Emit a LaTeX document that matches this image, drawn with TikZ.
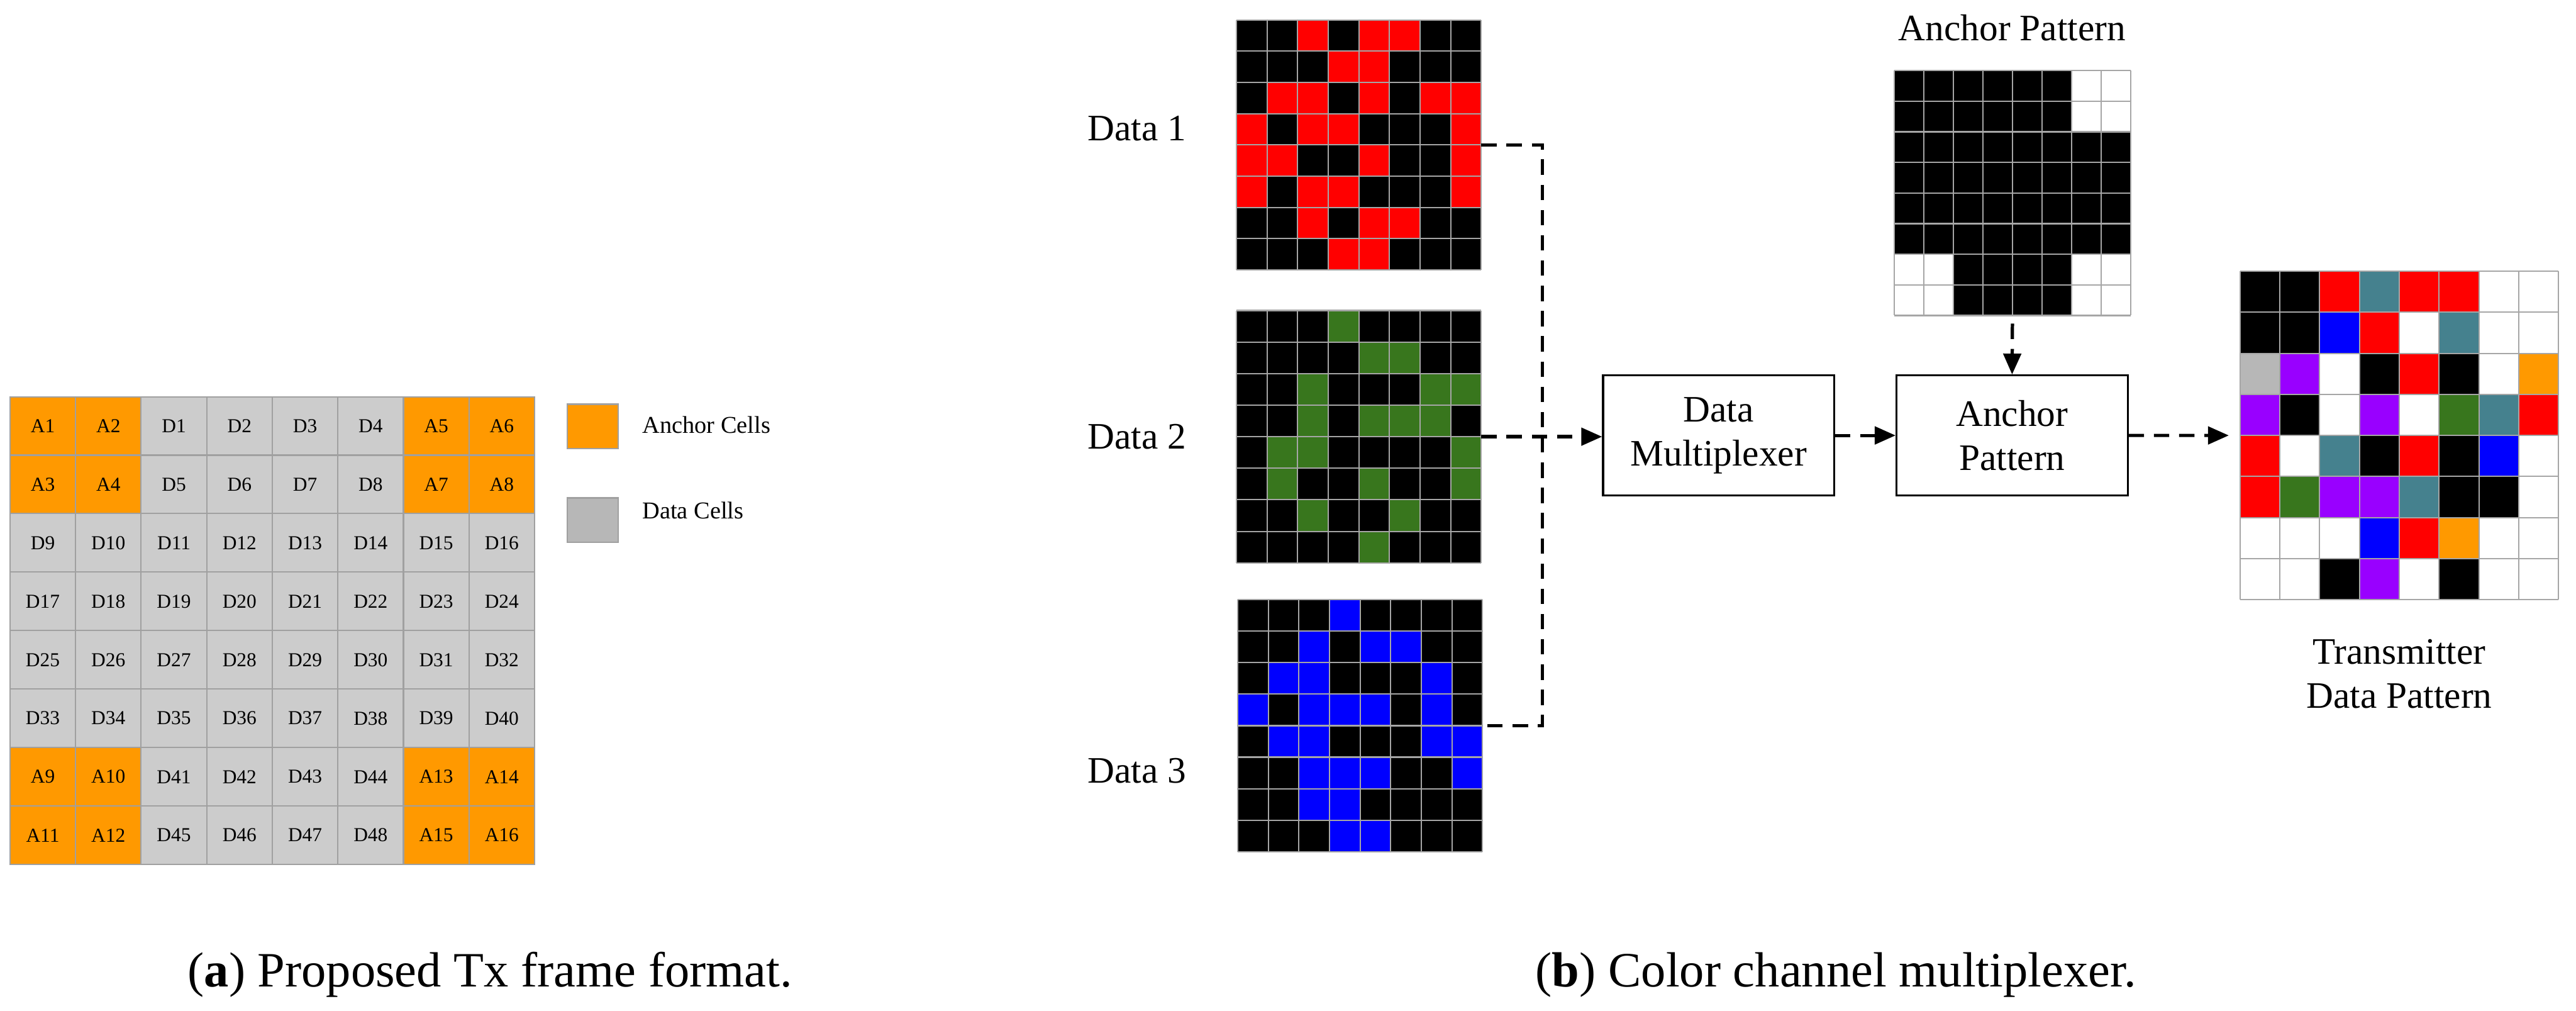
\documentclass[tikz,border=0pt]{standalone}
\usepackage{fontspec}
\setmainfont{Liberation Serif}
\usetikzlibrary{positioning,arrows.meta,calc}

\definecolor{fillA}{HTML}{FF9900}
\definecolor{fillD}{HTML}{CCCCCC}
\definecolor{legGray}{HTML}{B7B7B7}
\definecolor{lineGray}{HTML}{A0A0A0}
\definecolor{cellk}{HTML}{000000}
\definecolor{cellr}{HTML}{FF0000}
\definecolor{cellg}{HTML}{38761D}
\definecolor{cellb}{HTML}{0000FF}
\definecolor{cellt}{HTML}{45818E}
\definecolor{cellp}{HTML}{9900FF}
\definecolor{cello}{HTML}{FF9900}
\definecolor{celly}{HTML}{B7B7B7}
\definecolor{cellw}{HTML}{FFFFFF}

\tikzset{
  fcell/.style={draw=lineGray, line width=0.6pt, minimum width=1.05cm, minimum height=0.936cm, inner sep=0pt, font=\fontsize{9}{10}\selectfont},
  legbox/.style={draw=lineGray, line width=0.6pt, minimum width=0.82cm, minimum height=0.71cm, inner sep=0pt},
  leglbl/.style={anchor=base west, font=\fontsize{11}{13}\selectfont, inner sep=0pt},
  box/.style={draw, line width=0.9pt, minimum width=3.7cm, minimum height=1.92cm, align=center, font=\fontsize{17}{20}\selectfont},
  lbl/.style={font=\fontsize{17}{20}\selectfont, inner sep=0pt},
  pixline/.style={draw=black!35, line width=0.6pt},
  dline/.style={dash pattern=on 7pt off 4.5pt, line width=1.5pt},
  dflow/.style={dline, -{Triangle[length=9.5pt, width=8pt]}},
  captxt/.style={anchor=base, inner sep=0pt, font=\fontsize{22.5}{26}\selectfont},
}

% 8x8 pattern: name, left, top, cell width, cell height, rows
\newcommand{\pixgrid}[6]{%
  \foreach \prow [count=\ri] in {#6} {
    \foreach \pv [count=\ci] in \prow {
      \fill[fill=cell\pv] ({#2+(\ci-1)*#4}, {#3-(\ri-1)*#5}) rectangle ++(#4,-#5);
    }
  }
  \foreach \i in {0,...,8} {
    \draw[pixline] ({#2+\i*#4}, #3) -- ++(0, {-8*#5});
    \draw[pixline] (#2, {#3-\i*#5}) -- ++({8*#4}, 0);
  }
  \node[inner sep=0pt, outer sep=0pt, minimum width=8*#4cm, minimum height=8*#5cm, anchor=north west] (#1) at (#2,#3) {};
}

\begin{document}
\begin{tikzpicture}
  \useasboundingbox (0,0) rectangle (41.25,-16.18);

  % (a) frame format
  \foreach \prow [count=\ri] in {
      {A/1,A/2,D/1,D/2,D/3,D/4,A/5,A/6},
      {A/3,A/4,D/5,D/6,D/7,D/8,A/7,A/8},
      {D/9,D/10,D/11,D/12,D/13,D/14,D/15,D/16},
      {D/17,D/18,D/19,D/20,D/21,D/22,D/23,D/24},
      {D/25,D/26,D/27,D/28,D/29,D/30,D/31,D/32},
      {D/33,D/34,D/35,D/36,D/37,D/38,D/39,D/40},
      {A/9,A/10,D/41,D/42,D/43,D/44,A/13,A/14},
      {A/11,A/12,D/45,D/46,D/47,D/48,A/15,A/16}} {
    \foreach \kind/\num [count=\ci] in \prow {
      \node[fcell, fill=fill\kind] (c\kind\num) at ({0.16+(\ci-0.5)*1.05}, {-6.35-(\ri-0.5)*0.936}) {\kind\num};
    }
  }
  \node[legbox, fill=fillA, anchor=north west] (legA) at (9.07,-6.46) {};
  \node[legbox, fill=legGray, anchor=north west] (legD) at (9.07,-7.96) {};
  \node[leglbl] (legAtxt) at (10.28,-6.93) {Anchor Cells};
  \node[leglbl] (legDtxt) at (10.28,-8.30) {Data Cells};

  % (b) multiplexer
  \pixgrid{d1}{19.80}{-0.32}{0.49}{0.50}{
    {k,k,r,k,r,r,k,k},{k,k,k,r,r,k,k,k},{k,r,r,k,r,k,r,r},{r,k,r,r,k,k,k,r},
    {r,r,k,k,r,k,k,r},{r,k,r,r,k,k,k,r},{k,k,r,k,r,r,k,k},{k,k,k,r,r,k,k,k}}
  \pixgrid{d2}{19.80}{-4.97}{0.49}{0.505}{
    {k,k,k,g,k,k,k,k},{k,k,k,k,g,g,k,k},{k,k,g,k,k,k,g,g},{k,k,g,k,g,g,g,k},
    {k,g,g,k,k,k,k,g},{k,g,k,k,g,k,k,g},{k,k,g,k,k,g,k,k},{k,k,k,k,g,k,k,k}}
  \pixgrid{d3}{19.82}{-9.60}{0.49}{0.504}{
    {k,k,k,b,k,k,k,k},{k,k,b,k,b,b,k,k},{k,b,b,k,k,k,b,k},{b,k,b,b,b,k,b,k},
    {k,b,b,k,k,k,b,b},{k,k,b,b,b,k,k,b},{k,k,b,b,k,k,k,k},{k,k,k,b,b,k,k,k}}
  \node[lbl, anchor=west] (l1) at (17.41,-2.06) {Data 1};
  \node[lbl, anchor=west] (l2) at (17.41,-6.99) {Data 2};
  \node[lbl, anchor=west] (l3) at (17.41,-12.34) {Data 3};

  \pixgrid{agrid}{30.33}{-1.13}{0.474}{0.49}{
    {k,k,k,k,k,k,w,w},{k,k,k,k,k,k,w,w},{k,k,k,k,k,k,k,k},{k,k,k,k,k,k,k,k},
    {k,k,k,k,k,k,k,k},{k,k,k,k,k,k,k,k},{w,w,k,k,k,k,w,w},{w,w,k,k,k,k,w,w}}
  \node[lbl, anchor=base] (ahead) at (32.22,-0.65) {Anchor Pattern};

  \pixgrid{tx}{35.87}{-4.34}{0.6375}{0.6575}{
    {k,k,r,t,r,r,w,w},{k,k,b,r,w,t,w,w},{y,p,w,k,r,k,w,o},{p,k,w,p,w,g,t,r},
    {r,w,t,k,r,k,b,w},{r,g,p,p,t,k,k,w},{w,w,w,b,r,o,w,w},{w,w,k,p,w,k,w,w}}
  \node[lbl, align=center, anchor=north] (txlbl) at (38.42,-10.23) {Transmitter\\Data Pattern};

  \node[box] (mux) at (27.52,-6.97) {Data\\Multiplexer};
  \node[box] (ap) at (32.22,-6.97) {Anchor\\Pattern};

  \coordinate (bus) at (24.70,0);
  \draw[dline] (d1.east) -| (bus |- d3.east) -- (d3.east);
  \draw[dflow] (d2.east) -- (mux.west |- d2.east);
  \draw[dflow] (mux.east) -- (ap.west);
  \draw[dflow, shorten <=0.13cm] (agrid.south) -- (ap.north);
  \draw[dflow, shorten >=0.18cm] (ap.east) -- (tx.west);

  \node[captxt] (capa) at (7.85,-15.80) {(\textbf{a}) Proposed Tx frame format.};
  \node[captxt] (capb) at (29.40,-15.80) {(\textbf{b}) Color channel multiplexer.};
\end{tikzpicture}
\end{document}
